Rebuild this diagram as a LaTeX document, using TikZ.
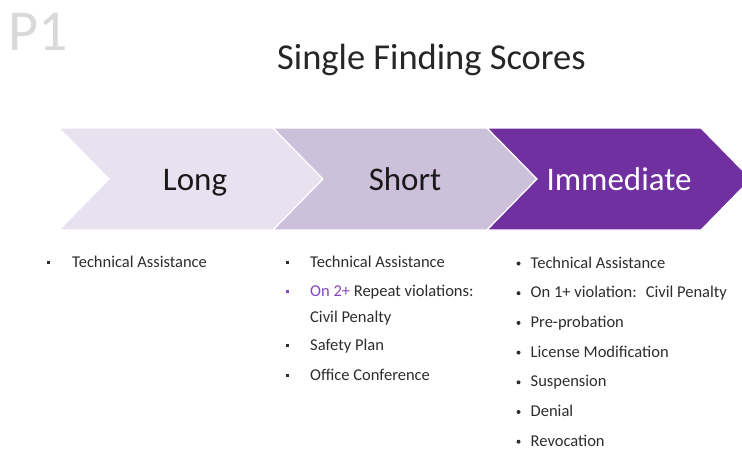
\documentclass[tikz,border=0pt]{standalone}
\usepackage{fontspec}
\setmainfont{Carlito}
\usepackage{tikz}
\usetikzlibrary{
    positioning,   % Relative positioning
    calc           % Coordinate calculations
}
\definecolor{ScoreLight}{RGB}{232, 226, 240}
\definecolor{ScoreMid}{RGB}{205, 192, 219}
\definecolor{ScoreDark}{RGB}{112, 48, 160}
\definecolor{ScoreAccent}{RGB}{132, 70, 192}
\definecolor{ItemGray}{RGB}{45, 45, 45}
\definecolor{PageGray}{RGB}{217, 217, 217}

\begin{document}
\begin{tikzpicture}[x=1pt, y=-1pt,
    chevron/.style={draw=white, line width=1.2pt},
    stage/.style={anchor=base, font=\fontsize{33}{33}\selectfont},
    item/.style={anchor=base west, text=ItemGray, font=\fontsize{16.5}{18}\selectfont, inner sep=0pt},
    sqbullet/.style={fill=ItemGray, minimum size=3.8pt, inner sep=0pt},
    dotbullet/.style={circle, fill=ItemGray, minimum size=4pt, inner sep=0pt}
]
    \useasboundingbox (0,0) rectangle (742,453);
    \clip (0,0) rectangle (742,453);

    % Page tag and title
    \node[anchor=base west, text=PageGray, inner sep=0pt, font=\fontsize{58}{58}\selectfont] (tag) at (8,50) {P1};
    \node[anchor=base, font=\fontsize{36.5}{36.5}\selectfont, text=black!85] (title) at (431.5,69) {Single Finding Scores};

    % Chevrons
    \foreach \x/\col in {59/ScoreLight, 273/ScoreMid, 487/ScoreDark} {
        \filldraw[chevron, fill=\col] (\x,128) -- (\x+214,128) -- (\x+264,179)
            -- (\x+214,230) -- (\x,230) -- (\x+50,179) -- cycle;
    }
    \node[stage, text=black!90] (long) at (195,190) {Long};
    \node[stage, text=black!90] (short) at (405,190) {Short};
    \node[stage, text=white] (immediate) at (619,190) {Immediate};

    % Long column
    \node[sqbullet] (lb1) at (48.5,262.5) {};
    \node[item] (l1) at (72,267) {Technical Assistance};

    % Short column
    \node[sqbullet] (sb1) at (287.5,262.5) {};
    \node[item] (s1) at (310,267) {Technical Assistance};
    \node[sqbullet, fill=ScoreAccent] (sb2) at (287.5,291.5) {};
    \node[item] (s2) at (310,296) {\textcolor{ScoreAccent}{On 2+} Repeat violations:};
    \node[item] (s2b) at (310,322) {Civil Penalty};
    \node[sqbullet] (sb3) at (287.5,345.5) {};
    \node[item] (s3) at (310,350) {Safety Plan};
    \node[sqbullet] (sb4) at (287.5,375.5) {};
    \node[item] (s4) at (310,380) {Office Conference};

    % Immediate column
    \foreach \t [count=\i from 0] in {Technical Assistance,
            {On 1+ violation:\hspace{9pt}Civil Penalty},
            Pre-probation, License Modification, Suspension, Denial, Revocation} {
        \node[dotbullet] (ib\i) at (518.5,263.5+29.7*\i) {};
        \node[item] (i\i) at (530.5,268+29.7*\i) {\t};
    }
\end{tikzpicture}
\end{document}
